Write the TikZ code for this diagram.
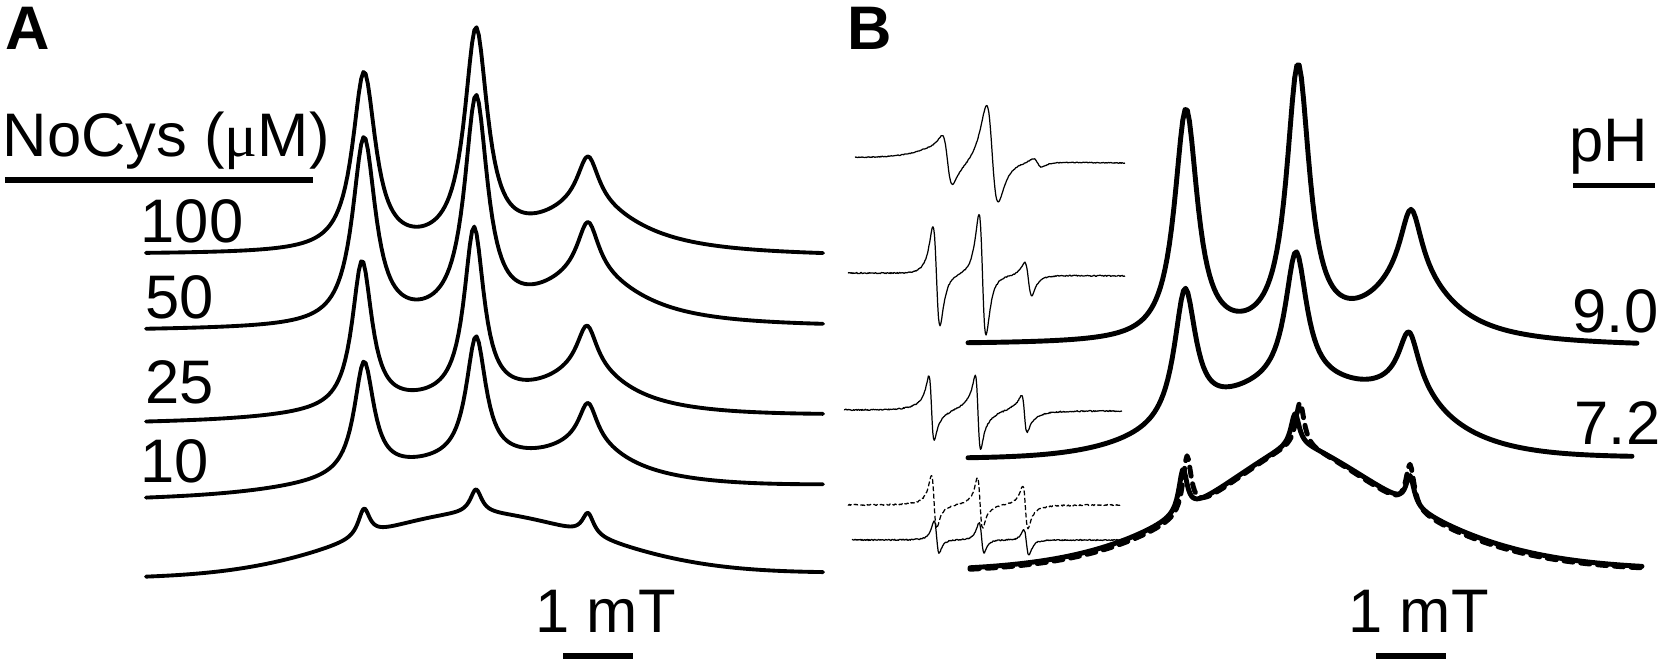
\documentclass[tikz,border=0pt]{standalone}
\usepackage{fontspec}
\setmainfont{Liberation Sans}
\newfontfamily\mufont{Liberation Serif}
\newcommand{\lblfont}{\fontsize{17.5}{21}\selectfont}
% line shapes: height, centre, half width
\newcommand{\lorz}[3]{#1/(1+((\x-#2)/#3)*((\x-#2)/#3))}
\newcommand{\gauz}[3]{#1*exp(-((\x-#2)/#3)*((\x-#2)/#3))}
\newcommand{\dloz}[3]{3.0792*#1*((#2-\x)/#3)/(1+((\x-#2)/#3)*((\x-#2)/#3))/(1+((\x-#2)/#3)*((\x-#2)/#3))}
% broad hump: height, centre, left width, right width
\newcommand{\tentz}[4]{#1*exp(-(abs(\x-#2)/ifthenelse(\x<#2,#3,#4))*sqrt(abs(\x-#2)/ifthenelse(\x<#2,#3,#4)))}
\tikzset{
  trace/.style={line width=1.1pt, line join=round, line cap=round},
  heavy/.style={line width=1.4pt, line join=round, line cap=round},
  inset/.style={line width=0.35pt, line join=round},
  lbl/.style={inner sep=0pt, anchor=base west, font=\lblfont},
  bar/.style={line width=1.7pt},
}
\begin{document}
\begin{tikzpicture}[x=0.1mm, y=-0.1mm]
    \useasboundingbox (0,0) rectangle (1660,664);
    \pgfmathsetseed{7}

    % panel A
    \node[lbl, font=\lblfont\bfseries] (labA) at (5,50) {A};
    \node[lbl] (conc) at (2,157) {NoCys ({\mufont μ}M)};
    \draw[bar] (5,180) -- (313,180);
    \node[lbl] (c100) at (140,243) {100};
    \node[lbl] (c50) at (145,319) {50};
    \node[lbl] (c25) at (145,404) {25};
    \node[lbl] (c10) at (140,483) {10};

    \draw[trace] plot[domain=146:823, samples=300]
        (\x, {255+2*(\x-146)/677 - \lorz{177}{364}{14} - \lorz{214}{476}{14} - \lorz{50}{588}{13} - \lorz{46}{588}{65}});
    \draw[trace] plot[domain=146:823, samples=300]
        (\x, {331-3*(\x-146)/677 - \lorz{186}{364}{14} - \lorz{219}{476}{14} - \lorz{54}{588}{13} - \lorz{49}{588}{65}});
    \draw[trace] plot[domain=146:823, samples=300]
        (\x, {423-7*(\x-146)/677 - \gauz{15}{475}{168} - \lorz{147}{362}{12} - \lorz{170}{474}{12} - \lorz{45}{587}{12} - \lorz{36}{587}{50}});
    \draw[trace] plot[domain=146:823, samples=300]
        (\x, {499-13*(\x-146)/677 - \gauz{28}{476}{168} - \lorz{113}{364}{12} - \lorz{123}{476}{12} - \lorz{40}{588}{11} - \lorz{28}{588}{45}});
    \draw[trace] plot[domain=146:823, samples=450]
        (\x, {578-5*(\x-146)/677 - \gauz{62}{476}{168} - \lorz{28}{364}{7} - \lorz{24}{476}{7} - \lorz{22}{588}{7}});

    \node[lbl] (mtA) at (535,633) {1 mT};
    \draw[bar] (563,656) -- (633,656);

    % panel B
    \node[lbl, font=\lblfont\bfseries] (labB) at (847,50) {B};
    \node[lbl] (ph) at (1569,162) {pH};
    \draw[bar, line width=1.4pt] (1573,185.5) -- (1655,185.5);
    \node[lbl] (ph90) at (1572,333) {9.0};
    \node[lbl] (ph72) at (1574,445) {7.2};

    % insets (first derivative)
    \draw[inset] plot[domain=855:1125, samples=350]
        (\x, {158+5*(\x-855)/270 - \dloz{8}{945}{28} - \dloz{21}{947.5}{8} + \lorz{1}{947.5}{8}
              - \dloz{48.8}{992}{10} - \lorz{13.3}{992}{10} - \dloz{4.5}{1037.5}{7} + 0.4*rand});
    \draw[inset] plot[domain=848:1125, samples=350]
        (\x, {273+3*(\x-848)/277 - \dloz{49.5}{936.5}{6} + \lorz{3.3}{936.5}{6}
              - \dloz{60.5}{982.5}{6} - \dloz{16.5}{1028.5}{6} + \lorz{4.7}{1028.5}{6} + 0.6*rand});
    \draw[inset] plot[domain=844:1122, samples=380]
        (\x, {410+(\x-844)/278 - \dloz{6}{931.5}{14} - \dloz{29.5}{931.5}{4.3} - \lorz{2}{931.5}{4.3}
              - \dloz{8}{978}{14} - \dloz{33}{978}{4.3} + \lorz{2}{978}{4.3}
              - \dloz{5}{1024.5}{14} - \dloz{16}{1024.5}{4.3} + \lorz{3.3}{1024.5}{4.3} + 0.6*rand});
    \draw[inset, dash pattern=on 1.4pt off 0.7pt] plot[domain=848:1122, samples=380]
        (\x, {505 - \dloz{3}{934}{14} - \dloz{25}{934}{4.3} - \lorz{4}{934}{4.3}
              - \dloz{3}{980}{14} - \dloz{24}{980}{4.3} - \lorz{3}{980}{4.3}
              - \dloz{3}{1025.5}{14} - \dloz{20}{1025.5}{4.3} + \lorz{3}{1025.5}{4.3} + 0.6*rand});
    \draw[inset] plot[domain=852:1122, samples=380]
        (\x, {540 - \dloz{16}{936.5}{4.3} - \lorz{4}{936.5}{4.3}
              - \dloz{15}{981.5}{4.3} - \lorz{3}{981.5}{4.3}
              - \dloz{12.5}{1026.5}{4.3} + \lorz{3.3}{1026.5}{4.3} + 0.6*rand});

    % spectra
    \draw[heavy] plot[domain=968:1637, samples=300]
        (\x, {345+2*(\x-968)/669 - \lorz{230}{1186}{14} - \lorz{268}{1298}{14} - \lorz{70}{1411}{13} - \lorz{62}{1411}{50}});
    \draw[heavy] plot[domain=968:1632, samples=300]
        (\x, {459-(\x-968)/664 - \gauz{70}{1298}{140} - \lorz{131}{1185}{13} - \lorz{131}{1296}{13} - \lorz{55}{1409}{12} - \lorz{32}{1409}{40}});
    \draw[heavy, dash pattern=on 2.6pt off 2.2pt] plot[domain=970:1642, samples=450]
        (\x, {572-(\x-970)/672 - \tentz{125}{1298}{134}{144} - \lorz{57}{1187}{5} - \lorz{44}{1300}{5} - \lorz{44}{1410}{5}});
    \draw[heavy] plot[domain=970:1642, samples=450]
        (\x, {571-(\x-970)/672 - \tentz{125}{1298}{138}{148} - \lorz{43}{1183}{5} - \lorz{32}{1295}{5} - \lorz{30}{1410}{5}});

    \node[lbl] (mtB) at (1348,633) {1 mT};
    \draw[bar] (1376,656) -- (1446,656);
\end{tikzpicture}
\end{document}
